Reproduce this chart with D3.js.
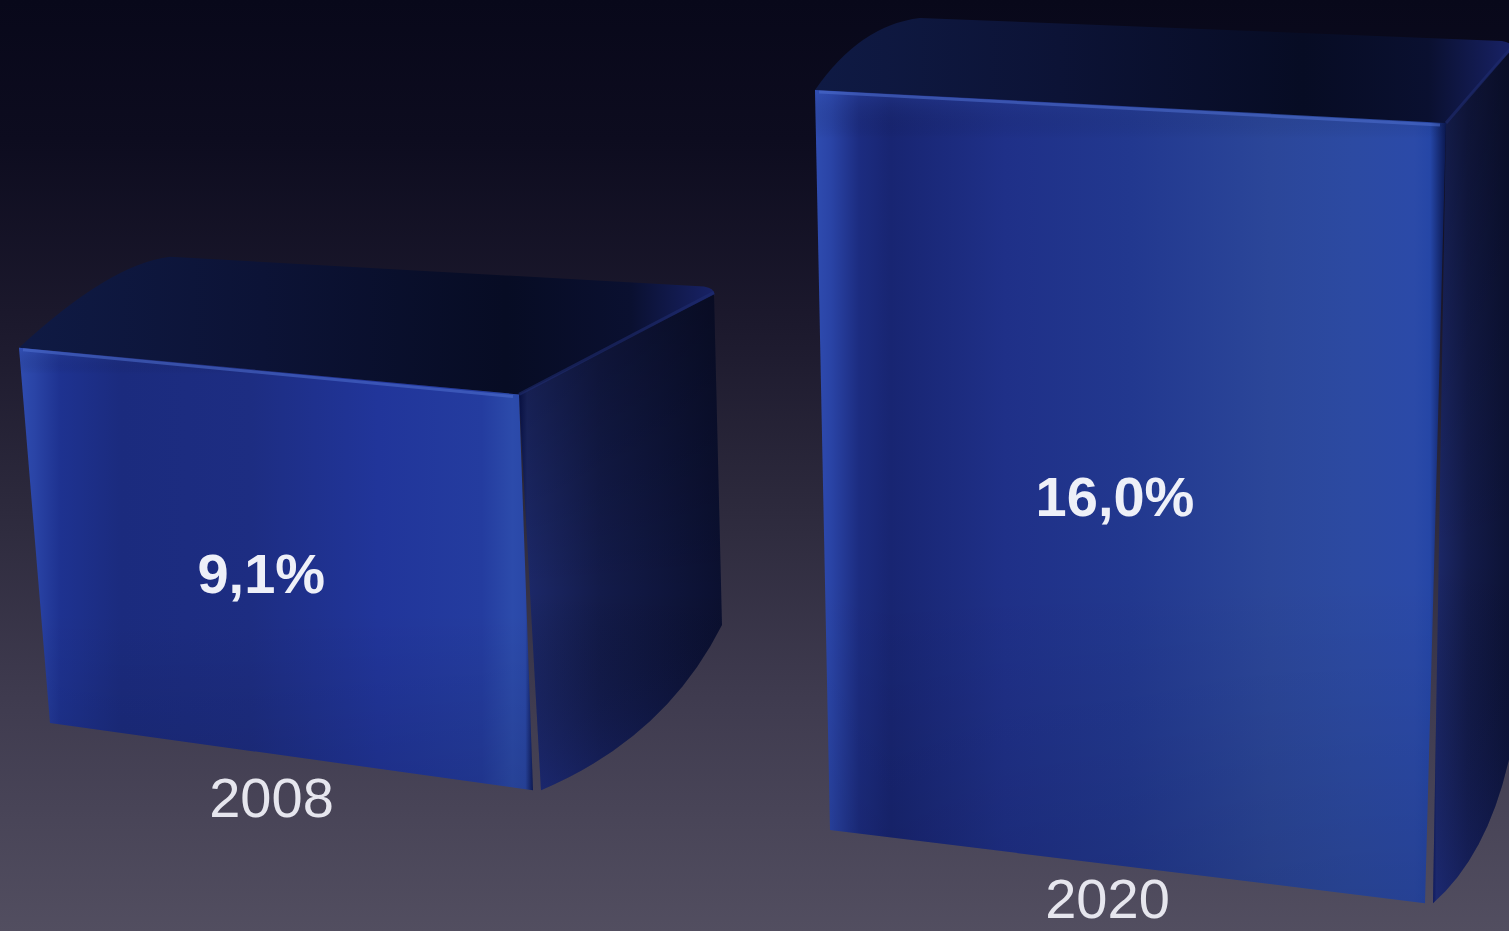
<!DOCTYPE html>
<html>
<head>
<meta charset="utf-8">
<script src="https://cdn.jsdelivr.net/npm/d3@7"></script>
<style>
  html, body { margin: 0; padding: 0; background: #000; overflow: hidden; }
  svg { display: block; }
</style>
</head>
<body>
<svg id="chart" width="1509" height="931"></svg>
<script>
// ---- data ----
const categories = ["2008", "2020"];
const values = [9.1, 16.0];
const valueLabels = ["9,1%", "16,0%"];

// ---- layout (geometry of the pseudo-3D boxes, not data) ----
const layout = [
  { ax: 50,  ay: 723, slopeB: 0.139, leanL: -31, leanR: -14,
    depthR: [195, -108], depthL: [131, -89], backBottomY: 625, ctrl: [665, 738], labelDx: -19, catY: 817 },
  { ax: 830, ay: 830, slopeB: 0.123, leanL: -15, leanR: 21,
    depthR: [66, -82], depthL: [85, -70], backBottomY: 690, ctrl: [1505, 840], labelDx: -14, catY: 918 }
];

const W = 1509, H = 931;
const svg = d3.select("#chart");
const defs = svg.append("defs");

// Scales
const hScale = d3.scaleLinear().domain([2, 16]).range([0, 759]);
const wScale = d3.scaleLinear().domain(d3.extent(values)).range([483, 595]);

// Background gradient
const bgGrad = defs.append("linearGradient").attr("id", "bg").attr("x1", 0).attr("y1", 0).attr("x2", 0).attr("y2", 1);
[[0, "#08081a"], [0.15, "#0d0c1f"], [0.35, "#1c192d"], [0.55, "#2d2a3d"], [0.75, "#3f3b4f"], [1, "#524e60"]]
  .forEach(([o, c]) => bgGrad.append("stop").attr("offset", o).attr("stop-color", c));
svg.append("rect").attr("width", W).attr("height", H).attr("fill", "url(#bg)");

// Front face gradients
const frontStops = [
  [[0, "#2f4cb0"], [0.03, "#2a44a6"], [0.08, "#1e3290"], [0.2, "#1b2b7e"], [0.45, "#1d2d82"],
   [0.7, "#21359a"], [0.9, "#243c9f"], [0.96, "#2c4bab"], [0.985, "#2a48a8"], [1, "#0f1c5c"]],
  [[0, "#2f4cb0"], [0.025, "#2a44a6"], [0.07, "#1c2c80"], [0.12, "#182572"], [0.3, "#1f3088"],
   [0.5, "#22388f"], [0.72, "#2b4699"], [0.85, "#2c4aa2"], [0.95, "#2b4aa8"], [0.975, "#2546a6"], [1, "#0b1850"]]
];
frontStops.forEach((stops, i) => {
  const g = defs.append("linearGradient").attr("id", "front" + i).attr("x1", 0).attr("y1", 0).attr("x2", 1).attr("y2", 0);
  stops.forEach(([o, c]) => g.append("stop").attr("offset", o).attr("stop-color", c));
});
const shadeGrad = defs.append("linearGradient").attr("id", "shade").attr("x1", 0).attr("y1", 0).attr("x2", 0).attr("y2", 1);
[[0, "#3a5ac0", 0.25], [0.06, "#000", 0], [0.6, "#000", 0.0], [1, "#000", 0.12]]
  .forEach(([o, c, a]) => shadeGrad.append("stop").attr("offset", o).attr("stop-color", c).attr("stop-opacity", a));

// Right face gradient
const sideGrad = defs.append("linearGradient").attr("id", "side").attr("x1", 0).attr("y1", 0).attr("x2", 1).attr("y2", 0);
[[0, "#0a1450"], [0.04, "#1c2868"], [0.4, "#131b4a"], [1, "#0b1030"]]
  .forEach(([o, c]) => sideGrad.append("stop").attr("offset", o).attr("stop-color", c));
const sideVGrad = defs.append("linearGradient").attr("id", "sideV").attr("x1", 0).attr("y1", 0).attr("x2", 0).attr("y2", 1);
[[0, "#000", 0.3], [0.6, "#000", 0], [1, "#1c2a80", 0.35]]
  .forEach(([o, c, a]) => sideVGrad.append("stop").attr("offset", o).attr("stop-color", c).attr("stop-opacity", a));

// Top face gradient
const topGrad = defs.append("linearGradient").attr("id", "topface").attr("x1", 0).attr("y1", 0).attr("x2", 1).attr("y2", 0);
[[0, "#0f1a44"], [0.35, "#0c1336"], [0.7, "#070c24"], [0.88, "#0a1030"], [1, "#182266"]]
  .forEach(([o, c]) => topGrad.append("stop").attr("offset", o).attr("stop-color", c));

const closedLine = d3.line().curve(d3.curveLinearClosed);

categories.forEach((cat, i) => {
  const L = layout[i];
  const h = hScale(values[i]);
  const w = wScale(values[i]);
  const BL = [L.ax, L.ay];
  const BR = [L.ax + w, L.ay + L.slopeB * w];
  const TL = [L.ax + L.leanL, L.ay - h * 0.975];
  const TR = [BR[0] + L.leanR, BR[1] - h * 1.028];
  const BTR = [TR[0] + L.depthR[0], TR[1] + L.depthR[1]];
  const BTL = [TL[0] + L.depthL[0], TL[1] + L.depthL[1]];
  const g = svg.append("g");

  // top face (with rounded back-left corner)
  const tp = d3.path();
  tp.moveTo(TL[0], TL[1]);
  tp.quadraticCurveTo(BTL[0] - 40, BTL[1] + 5, BTL[0] + 20, BTL[1] - 2);
  tp.lineTo(BTR[0] - 10, BTR[1]);
  tp.quadraticCurveTo(BTR[0] + 2, BTR[1] + 2, BTR[0], BTR[1] + 10);
  tp.lineTo(TR[0], TR[1]);
  tp.closePath();
  g.append("path").attr("d", tp.toString()).attr("fill", "url(#topface)");

  // right face
  const rp = d3.path();
  rp.moveTo(TR[0], TR[1]);
  rp.lineTo(BTR[0], BTR[1] + 8);
  rp.lineTo(BTR[0] + 8, L.backBottomY);
  rp.quadraticCurveTo(L.ctrl[0], L.ctrl[1], BR[0] + 8, BR[1]);
  rp.closePath();
  g.append("path").attr("d", rp.toString()).attr("fill", "url(#side)");
  g.append("path").attr("d", rp.toString()).attr("fill", "url(#sideV)");
  g.append("line").attr("x1", TR[0]).attr("y1", TR[1]).attr("x2", BTR[0]).attr("y2", BTR[1] + 6)
    .attr("stroke", "#1f2c70").attr("stroke-width", 3).attr("opacity", 0.6);

  // front face
  const fpts = [TL, TR, BR, BL];
  g.append("path").attr("d", closedLine(fpts)).attr("fill", `url(#front${i})`);
  g.append("path").attr("d", closedLine(fpts)).attr("fill", "url(#shade)");
  g.append("line").attr("x1", TL[0] + 4).attr("y1", TL[1] + 2).attr("x2", TR[0] - 6).attr("y2", TR[1] + 2)
    .attr("stroke", "#4f6fcf").attr("stroke-width", 3).attr("opacity", 0.55);

  // value label
  const cx = (TL[0] + TR[0] + BL[0] + BR[0]) / 4 + L.labelDx;
  const cy = (TL[1] + TR[1] + BL[1] + BR[1]) / 4;
  g.append("text").attr("x", cx).attr("y", cy + 29)
    .attr("text-anchor", "middle")
    .attr("font-family", "'Liberation Sans', Arial, sans-serif")
    .attr("font-weight", "bold").attr("font-size", 56)
    .attr("fill", "#eef0f8")
    .text(valueLabels[i]);

  // category label
  const bx = (BL[0] + BR[0]) / 2 - 20;
  g.append("text").attr("x", bx).attr("y", L.catY)
    .attr("text-anchor", "middle")
    .attr("font-family", "'Liberation Sans', Arial, sans-serif")
    .attr("font-size", 56)
    .attr("fill", "#e6e6ee")
    .text(cat);
});
</script>
</body>
</html>
